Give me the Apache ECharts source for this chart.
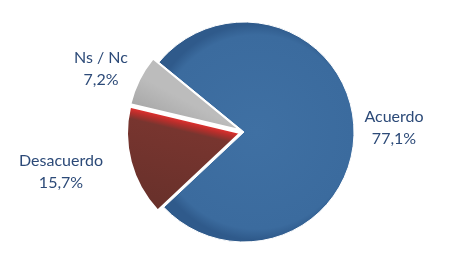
<!DOCTYPE html>
<html>
<head>
<meta charset="utf-8">
<script src="https://cdn.jsdelivr.net/npm/echarts@6/dist/echarts.min.js"></script>
<style>html,body{margin:0;padding:0;background:#fff;}#c{width:450px;height:270px;}</style>
</head>
<body>
<div id="c"></div>
<script>
var categories = ['Ns / Nc', 'Desacuerdo', 'Acuerdo'];
var values = [7.2, 15.7, 77.1];
var valueLabels = ['7,2%', '15,7%', '77,1%'];
var exploded = [true, true, false];

var G = echarts.graphic;
var colors = {
  'Ns / Nc': new G.LinearGradient(238, 128, 205, 190, [
    {offset: 0, color: '#bcbcbc'}, {offset: 0.5, color: '#a4a4a4'}, {offset: 1, color: '#939393'}], true),
  'Desacuerdo': new G.LinearGradient(238, 132, 215, 229, [
    {offset: 0, color: '#d8302e'}, {offset: 0.035, color: '#b82e2b'}, {offset: 0.1, color: '#78352f'}, {offset: 1, color: '#66302a'}], true),
  'Acuerdo': new G.RadialGradient(0.5, 0.5, 0.55, [
    {offset: 0, color: '#3f70a3'}, {offset: 0.9, color: '#3b6b9e'}, {offset: 1, color: '#2f5a8b'}])
};
var labelPos = {
  'Ns / Nc': [101, 69],
  'Desacuerdo': [61, 172],
  'Acuerdo': [394, 128]
};

function sliceData(showExploded) {
  return categories.map(function (c, i) {
    var visible = exploded[i] === showExploded;
    return {
      name: c,
      value: values[i],
      selected: exploded[i] && showExploded,
      itemStyle: visible ? {color: colors[c]} : {color: 'rgba(0,0,0,0)', borderWidth: 0}
    };
  });
}
var labelData = categories.map(function (c, i) {
  return {name: c, value: values[i], label: {formatter: c + '\n' + valueLabels[i]}};
});

var common = {
  type: 'pie',
  center: [244, 132],
  startAngle: 140.7,
  clockwise: false,
  emphasis: {disabled: true},
  label: {show: false},
  labelLine: {show: false}
};

var chart = echarts.init(document.getElementById('c'), null, {renderer: 'canvas'});
chart.setOption({
  animation: false,
  backgroundColor: '#ffffff',
  series: [
    Object.assign({}, common, {
      radius: [0, 110],
      silent: true,
      itemStyle: {borderColor: '#ffffff', borderWidth: 1},
      data: sliceData(false)
    }),
    Object.assign({}, common, {
      radius: [0, 113],
      selectedMode: 'multiple',
      selectedOffset: 4,
      itemStyle: {borderColor: '#ffffff', borderWidth: 1.8},
      data: sliceData(true)
    }),
    Object.assign({}, common, {
      radius: [0, 110],
      silent: true,
      itemStyle: {color: 'rgba(0,0,0,0)', borderWidth: 0},
      label: {
        show: true,
        position: 'inside',
        overflow: 'none',
        color: '#2c4a78',
        fontFamily: 'Lato',
        fontSize: 16,
        lineHeight: 22,
        align: 'center'
      },
      labelLayout: function (p) {
        var pos = labelPos[categories[p.dataIndex]];
        return {x: pos[0], y: pos[1], align: 'center', verticalAlign: 'middle'};
      },
      data: labelData
    })
  ]
});
</script>
</body>
</html>
